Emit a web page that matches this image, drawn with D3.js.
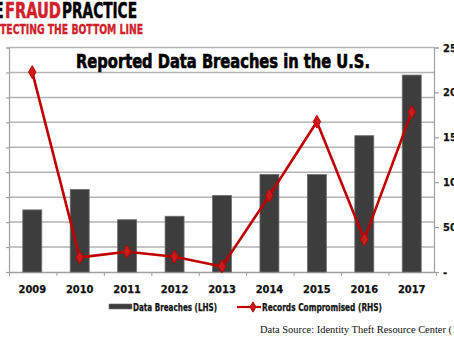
<!DOCTYPE html>
<html>
<head>
<meta charset="utf-8">
<script src="https://cdn.jsdelivr.net/npm/d3@7"></script>
<style>
  html, body { margin: 0; padding: 0; background: #fff; overflow: hidden; }
  svg { display: block; }
  .cond { font-family: "Liberation Sans Narrow", "DejaVu Sans Condensed", "Roboto", sans-serif; font-weight: bold; }
</style>
</head>
<body>
<script>
// Reported data breaches (count, left axis) and records compromised (millions, right axis)
const years = ["2009", "2010", "2011", "2012", "2013", "2014", "2015", "2016", "2017"];
const breaches = [498, 662, 419, 447, 614, 783, 781, 1093, 1579];
const records = [222.6, 16.3, 22.6, 17.0, 6.2, 85.2, 167.4, 36.3, 178.1];
const leftTicks = [0, 200, 400, 600, 800, 1000, 1200, 1400, 1600, 1800];
const rightTicks = [0, 50, 100, 150, 200, 250];

const W = 454, H = 341;
const barColor = "#3d3d3d";
const lineColor = "#c00000";
const brandRed = "#d0202a";

const svg = d3.select("body").append("svg").attr("width", W).attr("height", H);

const x = d3.scaleBand().domain(years).range([9.5, 434.5]).paddingInner(0.6).paddingOuter(0.28);
const yL = d3.scaleLinear().domain([0, 1800]).range([272, 47.5]);
const yR = d3.scaleLinear().domain([0, 250]).range([272, 47.5]);

// Horizontal gridlines from the left scale
svg.append("g").selectAll("line").data(leftTicks.slice(1)).join("line")
  .attr("x1", 9).attr("x2", 434)
  .attr("y1", d => yL(d)).attr("y2", d => yL(d))
  .attr("stroke", "#b3b3b3").attr("stroke-width", 1.5);

// Left axis (its labels sit beyond the left edge)
const gL = svg.append("g").attr("transform", "translate(9,0)")
  .call(d3.axisLeft(yL).tickValues(leftTicks).tickSize(3).tickFormat(""));
gL.selectAll("path, line").attr("stroke", "#a0a0a0").attr("stroke-width", 1.2);

// Right axis
const gR = svg.append("g").attr("transform", "translate(434,0)")
  .call(d3.axisRight(yR).tickValues(rightTicks).tickSize(5).tickPadding(4)
    .tickFormat(d => d === 0 ? "-" : d));
gR.selectAll("path, line").attr("stroke", "#a0a0a0").attr("stroke-width", 1.2);
gR.selectAll("text").attr("class", "cond").attr("font-size", 11).attr("fill", "#111")
  .attr("stroke", "#111").attr("stroke-width", 0.25);

// Bottom axis
const gX = svg.append("g").attr("transform", "translate(0,272)")
  .call(d3.axisBottom(x).tickSize(0).tickPadding(13));
gX.select("path").attr("stroke", "#a0a0a0").attr("stroke-width", 1.5);
gX.selectAll("text").attr("class", "cond").attr("font-size", 11).attr("fill", "#111")
  .attr("stroke", "#111").attr("stroke-width", 0.25);
// Category boundary ticks
svg.append("g").selectAll("line").data(d3.range(years.length + 1)).join("line")
  .attr("x1", i => 9.5 + i * x.step())
  .attr("x2", i => 9.5 + i * x.step())
  .attr("y1", 272).attr("y2", 276)
  .attr("stroke", "#a0a0a0").attr("stroke-width", 1);

// Bars
svg.append("g").selectAll("rect").data(years).join("rect")
  .attr("x", (d) => x(d))
  .attr("y", (d, i) => yL(breaches[i]))
  .attr("width", x.bandwidth())
  .attr("height", (d, i) => yL(0) - yL(breaches[i]))
  .attr("fill", barColor).attr("stroke", "#6e6e6e").attr("stroke-width", 0.8);

// Records line
const cx = d => x(d) + x.bandwidth() / 2;
const line = d3.line().x((d, i) => cx(years[i])).y(d => yR(d));
svg.append("path").datum(records).attr("d", line)
  .attr("fill", "none").attr("stroke", lineColor).attr("stroke-width", 2.6)
  .attr("stroke-linejoin", "round");
const diamond = d3.symbol().type(d3.symbolDiamond).size(48);
svg.append("g").selectAll("path").data(records).join("path")
  .attr("d", diamond)
  .attr("transform", (d, i) => `translate(${cx(years[i])},${yR(d)})`)
  .attr("fill", "#cc1a1a").attr("stroke", lineColor).attr("stroke-width", 1);

// Title
svg.append("text").attr("class", "cond")
  .attr("x", 76).attr("y", 68).attr("font-size", 19)
  .attr("textLength", 294).attr("lengthAdjust", "spacingAndGlyphs")
  .attr("fill", "#000").attr("stroke", "#000").attr("stroke-width", 0.6)
  .text("Reported Data Breaches in the U.S.");

// Brand header
const brand = svg.append("g").attr("class", "cond");
brand.append("text").attr("x", 4).attr("y", 18).attr("font-size", 21).attr("text-anchor", "end")
  .attr("fill", "#000").attr("stroke", "#000").attr("stroke-width", 0.5).text("THE");
brand.append("text").attr("x", 5).attr("y", 18).attr("font-size", 21)
  .attr("textLength", 56).attr("lengthAdjust", "spacingAndGlyphs")
  .attr("fill", brandRed).attr("stroke", brandRed).attr("stroke-width", 0.5).text("FRAUD");
brand.append("text").attr("x", 62).attr("y", 18).attr("font-size", 21)
  .attr("textLength", 75).attr("lengthAdjust", "spacingAndGlyphs")
  .attr("fill", "#000").attr("stroke", "#000").attr("stroke-width", 0.5).text("PRACTICE");
brand.append("text").attr("x", -1).attr("y", 34).attr("font-size", 13.5).attr("text-anchor", "end")
  .attr("fill", brandRed).text("PRO");
brand.append("text").attr("x", 0).attr("y", 34).attr("font-size", 13.5)
  .attr("textLength", 143).attr("lengthAdjust", "spacingAndGlyphs")
  .attr("fill", brandRed).attr("stroke", brandRed).attr("stroke-width", 0.3).text("TECTING THE BOTTOM LINE");

// Legend
const lg = svg.append("g");
lg.append("rect").attr("x", 109).attr("y", 304).attr("width", 23).attr("height", 5)
  .attr("fill", barColor).attr("stroke", "#6e6e6e").attr("stroke-width", 0.6);
lg.append("text").attr("class", "cond").attr("x", 133).attr("y", 311).attr("font-size", 11)
  .attr("textLength", 84).attr("lengthAdjust", "spacingAndGlyphs")
  .attr("fill", "#111").attr("stroke", "#111").attr("stroke-width", 0.25).text("Data Breaches (LHS)");
lg.append("line").attr("x1", 237).attr("x2", 261).attr("y1", 307).attr("y2", 307)
  .attr("stroke", lineColor).attr("stroke-width", 2.2);
lg.append("path").attr("d", d3.symbol().type(d3.symbolDiamond).size(30))
  .attr("transform", "translate(253,307)").attr("fill", "#cc1a1a").attr("stroke", lineColor);
lg.append("text").attr("class", "cond").attr("x", 262).attr("y", 311).attr("font-size", 11)
  .attr("textLength", 120).attr("lengthAdjust", "spacingAndGlyphs")
  .attr("fill", "#111").attr("stroke", "#111").attr("stroke-width", 0.25).text("Records Compromised (RHS)");

// Source note (runs past the right edge)
const src = svg.append("g").attr("font-family", "Liberation Serif, Times New Roman, serif")
  .attr("font-size", 11).attr("fill", "#111");
src.append("text").attr("x", 260).attr("y", 333)
  .attr("textLength", 192).attr("lengthAdjust", "spacingAndGlyphs")
  .text("Data Source: Identity Theft Resource Center (");
src.append("text").attr("x", 453).attr("y", 333).text("ITRC)");
</script>
</body>
</html>
